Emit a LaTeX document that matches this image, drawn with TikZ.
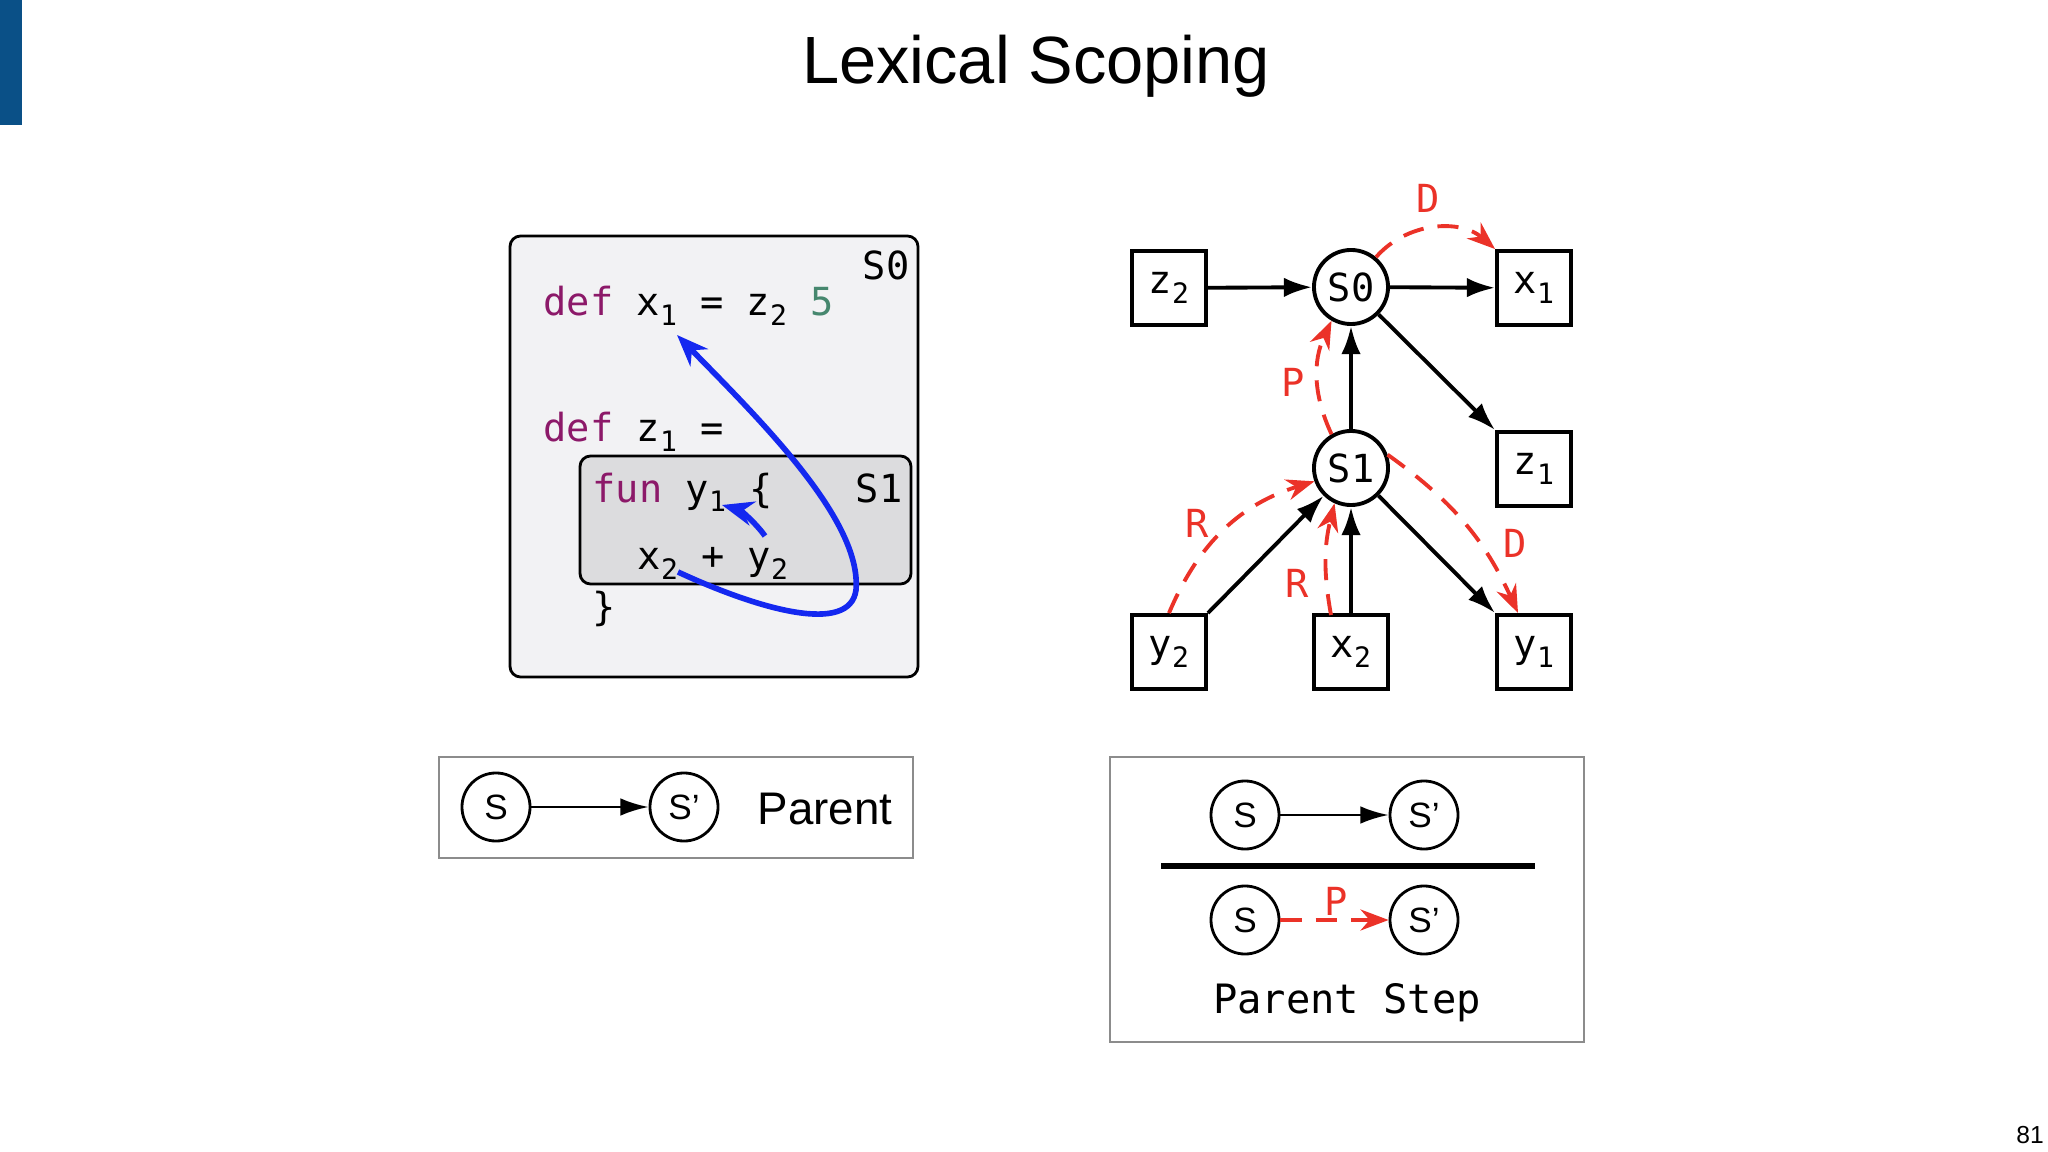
\documentclass[tikz,border=0pt]{standalone}
\usepackage{fontspec}
\setmainfont{Liberation Sans}
\setmonofont{DejaVu Sans Mono}
\usetikzlibrary{arrows.meta}
\definecolor{kw}{RGB}{140,25,105}
\definecolor{num}{RGB}{70,135,110}
\definecolor{rd}{RGB}{235,50,40}
\definecolor{bl}{RGB}{20,40,240}
\definecolor{bar}{RGB}{10,80,135}
\newcommand{\subs}[1]{\raisebox{-0.45ex}{\fontsize{8}{9}\selectfont #1}}
\begin{document}
\begin{tikzpicture}[x=0.01cm,y=-0.01cm,
  code/.style={anchor=base west,inner sep=0,font=\ttfamily\fontsize{11}{13}\selectfont},
  var/.style={draw,line width=1.1pt,minimum size=0.74cm,inner sep=0,font=\ttfamily\fontsize{11}{13}\selectfont},
  scp/.style={draw,circle,line width=1.1pt,minimum size=0.74cm,inner sep=0,font=\ttfamily\fontsize{11}{13}\selectfont},
  lsc/.style={draw,circle,line width=0.8pt,minimum size=0.68cm,inner sep=0,font=\fontsize{10}{12}\selectfont},
  edge/.style={line width=1.1pt,-{Latex[length=8pt,width=5.5pt]}},
  red/.style={rd,dashed,line width=1.1pt,dash pattern=on 6pt off 4pt,-{Stealth[length=8pt,width=6pt]}},
  rl/.style={text=rd,font=\ttfamily\fontsize{11}{13}\selectfont},
  blu/.style={bl,line width=1.6pt,-{Stealth[length=9pt,width=7pt]}}]
\useasboundingbox (0,0) rectangle (2048,1152);
\fill[bar] (0,0) rectangle (22,125);
\node (title) at (1036,66) {\fontsize{19}{23}\selectfont Lexical Scoping};
\node (pg) at (2030,1135) {\fontsize{7}{8}\selectfont 81};
% code box
\draw[fill={rgb,255:red,242;green,242;blue,244},line width=0.8pt,rounded corners=3pt] (510,236) rectangle (918,677);
\draw[fill={rgb,255:red,220;green,220;blue,222},line width=0.8pt,rounded corners=3pt] (580,456) rectangle (911,584);
\node[code,anchor=base east] (s0l) at (910,280) {S0};
\node[code,anchor=base east] (s1l) at (903,502) {S1};
\node[code] (l1) at (543,316) {\textcolor{kw}{def} x\subs{1} = z\subs{2} \textcolor{num}{5}};
\node[code] (l2) at (543,442) {\textcolor{kw}{def} z\subs{1} =};
\node[code] (l3) at (592,502) {\textcolor{kw}{fun} y\subs{1} \{};
\node[code] (l4) at (637,570) {x\subs{2} + y\subs{2}};
\node[code] (l5) at (592,620) {\}};
\coordinate (xa) at (678,572);
\coordinate (xt) at (677,335);
\coordinate (ya) at (765,536);
\coordinate (yt) at (722,505);
\draw[blu] (xa) .. controls (760,610) and (850,635) .. (856,590) .. controls (862,520) and (760,420) .. (xt);
\draw[blu] (ya) .. controls (755,522) and (740,510) .. (yt);
% graph
\node[var] (z2) at (1169,288) {z\subs{2}};
\node[scp] (S0) at (1351,287) {S0};
\node[var] (x1) at (1534,288) {x\subs{1}};
\node[var] (z1) at (1534,469) {z\subs{1}};
\node[scp] (S1) at (1351,468) {S1};
\node[var] (y2) at (1169,652) {y\subs{2}};
\node[var] (x2) at (1351,652) {x\subs{2}};
\node[var] (y1) at (1534,652) {y\subs{1}};
\coordinate (x2r) at (1331,615);
\coordinate (y1r) at (1518,613);
\draw[edge] (z2) -- (S0);
\draw[edge] (S0) -- (x1);
\draw[edge] (S0) -- (z1.north west);
\draw[edge] (S1) -- (S0);
\draw[edge] (y2.north east) -- (S1);
\draw[edge] (x2) -- (S1);
\draw[edge] (S1) -- (y1.north west);
\draw[red] (S0.50) to[bend left=45] (x1.north west);
\draw[red] (S1.120) to[bend left=25] (S0.240);
\draw[red] (y2.north) to[bend left=25] (S1.200);
\draw[red] (x2r) to[bend left=12] (S1.245);
\draw[red] (S1.20) to[bend left=15] (y1r);
\node[rl] (Dt) at (1428,198) {D};
\node[rl] (Pl) at (1293,382) {P};
\node[rl] (R1) at (1197,523) {R};
\node[rl] (R2) at (1297,583) {R};
\node[rl] (D2) at (1515,543) {D};
% legend left
\draw[black!45,line width=0.8pt] (439,757) rectangle (913,858);
\node[lsc] (LS) at (496,807) {S};
\node[lsc] (LSp) at (684,807) {S’};
\draw[line width=0.8pt,-{Latex[length=8pt,width=5pt]}] (LS) -- (LSp);
\node (par) at (825,809) {\fontsize{13}{16}\selectfont Parent};
% legend right
\draw[black!45,line width=0.8pt] (1110,757) rectangle (1584,1042);
\node[lsc] (RS) at (1245,815) {S};
\node[lsc] (RSp) at (1424,815) {S’};
\draw[line width=0.8pt,-{Latex[length=8pt,width=5pt]}] (RS) -- (RSp);
\coordinate (ll) at (1161,866);
\coordinate (lr) at (1535,866);
\draw[line width=1.5pt] (ll) -- (lr);
\node[lsc] (BS) at (1245,920) {S};
\node[lsc] (BSp) at (1424,920) {S’};
\draw[red,line width=0.9pt] (BS) -- (BSp);
\node[rl] (Pb) at (1336,901) {P};
\node (ps) at (1347,1003) {\ttfamily\fontsize{11.5}{14}\selectfont Parent Step};
\end{tikzpicture}
\end{document}
